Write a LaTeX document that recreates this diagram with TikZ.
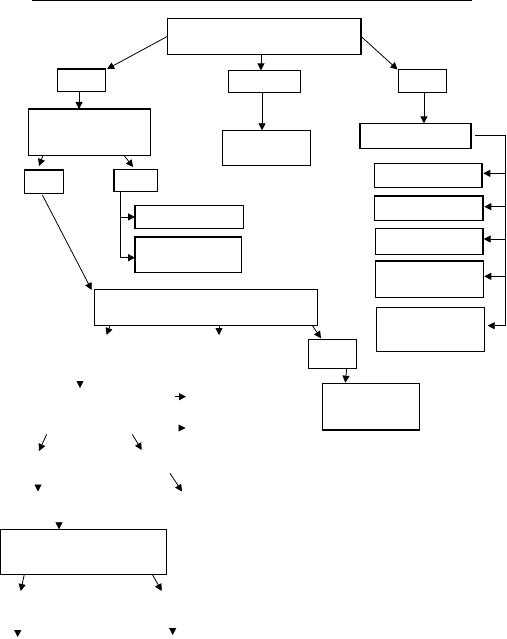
\documentclass[tikz,border=0pt]{standalone}
\usetikzlibrary{arrows.meta}
\tikzset{
  boxst/.style={draw, line width=1.1pt, inner sep=0pt, outer sep=0pt},
  arr/.style={line width=0.8pt, -{Triangle[length=7pt,width=7pt]}},
  conn/.style={line width=0.8pt},
}
\newcommand\bx[5]{\node[boxst, minimum width={(#4-#2)*1pt}, minimum height={(#5-#3)*1pt}] (#1) at ({(#2+#4)/2},{(#3+#5)/2}) {};}
\begin{document}
\begin{tikzpicture}[x=1pt,y=-1pt]
\useasboundingbox (0,0) rectangle (506,639);
\draw[line width=1.4pt] (32,0.5) -- (472,0.5);
% boxes
\bx{A}{167.5}{18.3}{361}{54.4}
\bx{Bl}{57.5}{69}{105.6}{91.4}
\bx{Bm}{228.5}{70.4}{300.2}{92.6}
\bx{Br}{398.5}{69.5}{446.8}{92.5}
\bx{Cl}{28.5}{109}{150.6}{155.3}
\bx{Cm}{222.4}{130.3}{310.6}{165.3}
\bx{Cr}{360}{123.4}{471}{148.3}
\bx{Da}{374.2}{163.4}{482}{187.3}
\bx{Db}{374.2}{196}{483}{220.7}
\bx{Dc}{375.2}{228.4}{483}{254.3}
\bx{Dd}{375.5}{261}{483.7}{297.3}
\bx{De}{376.5}{307.4}{484.7}{351.3}
\bx{El}{24.4}{170}{63.3}{193.4}
\bx{Er}{114}{169.4}{157.3}{191.7}
\bx{Fa}{135}{205.2}{243.4}{228.7}
\bx{Fb}{135}{237}{241.7}{272.3}
\bx{G}{94.3}{289.4}{317.3}{325.4}
\bx{H}{308.4}{339.3}{356.4}{368.3}
\bx{I}{322.4}{383.4}{419.7}{430}
\bx{J}{0.6}{529.3}{166.7}{574.4}
% top level
\draw[arr] (A.west) -- ([xshift=1.5pt]Bl.north east);
\draw[arr] ([xshift=-3.3pt]A.south) -- ([xshift=-3.3pt]A.south |- Bm.north);
\draw[arr] (A.east) -- ([xshift=-1pt]Br.north west);
\draw[arr] ([xshift=-2.5pt]Bl.south) -- ([xshift=-2.5pt]Bl.south |- Cl.north);
\draw[arr] ([xshift=-2.3pt]Bm.south) -- ([xshift=-2.3pt]Bm.south |- Cm.north);
\draw[arr] ([xshift=1.3pt]Br.south) -- ([xshift=1.3pt]Br.south |- Cr.north);
% right bracket
\coordinate (rb) at (505.6,325.7);
\draw[conn] ([xshift=4pt]Cr.east) -| (rb);
\draw[arr] ([yshift=2pt]Da.east -| rb) -- ([shift={(1.3pt,2pt)}]Da.east);
\draw[arr] ([yshift=1.7pt]Db.east -| rb) -- ([shift={(1.3pt,1.7pt)}]Db.east);
\draw[arr] ([yshift=2.3pt]Dc.east -| rb) -- ([shift={(0.7pt,2.3pt)}]Dc.east);
\draw[arr] ([yshift=2.8pt]Dd.east -| rb) -- ([shift={(0.6pt,2.8pt)}]Dd.east);
\draw[arr] (rb) -- ([xshift=3pt]rb -| De.east);
% left branch
\draw[arr] ([xshift=14.5pt]Cl.south west) -- ([shift={(-4.8pt,4pt)}]El.north);
\draw[arr] ([xshift=-26.6pt]Cl.south east) -- ([shift={(-2.6pt,2.4pt)}]Er.north);
\coordinate (eb) at (120.3,257.7);
\draw[conn] ([xshift=6.3pt]Er.south west) -- (eb);
\draw[arr] (eb |- Fa.west) -- (Fa.west);
\draw[arr] (eb) -- (eb -| Fb.west);
\draw[arr] ([shift={(-1.5pt,-1.6pt)}]El.south) -- ([shift={(-2.6pt,-0.6pt)}]G.north west);
% G outputs
\coordinate (g1) at (106.7,335);
\coordinate (g2) at (219,335);
\draw[arr] ([xshift=15.7pt]G.south west) -- (g1);
\draw[arr] (g2 |- G.south) -- (g2);
\draw[arr] ([xshift=-5pt]G.south east) -- ([shift={(12.6pt,1pt)}]H.north west);
\draw[arr] ([xshift=14.3pt]H.south) -- ([shift={(-25.7pt,0.7pt)}]I.north);
% loose arrows
\coordinate (p1s) at (80,381);    \coordinate (p1t) at (80,388);
\coordinate (p2s) at (175,396.7); \coordinate (p2t) at (186,396.7);
\coordinate (p3s) at (178.5,428); \coordinate (p3t) at (185.5,428);
\coordinate (p4s) at (46.7,434.3); \coordinate (p4t) at (39,451);
\coordinate (p5s) at (132.3,434.3); \coordinate (p5t) at (141.7,450);
\coordinate (p6s) at (38,484.7);  \coordinate (p6t) at (38,491.5);
\coordinate (p7s) at (170,473.3); \coordinate (p7t) at (182,491.5);
\coordinate (p8s) at (59,522);
\coordinate (q1) at (20.7,591);   \coordinate (q2) at (161.7,591);
\coordinate (p9s) at (17.7,630);  \coordinate (p9t) at (17.7,637);
\coordinate (p10s) at (172.7,628); \coordinate (p10t) at (172.7,635);
\draw[arr] (p1s) -- (p1t);
\draw[arr] (p2s) -- (p2t);
\draw[arr] (p3s) -- (p3t);
\draw[arr] (p4s) -- (p4t);
\draw[arr] (p5s) -- (p5t);
\draw[arr] (p6s) -- (p6t);
\draw[arr] (p7s) -- (p7t);
\draw[arr] (p8s) -- (p8s |- J.north);
\draw[arr] ([xshift=23.7pt]J.south west) -- (q1);
\draw[arr] ([xshift=-14.4pt]J.south east) -- (q2);
\draw[arr] (p9s) -- (p9t);
\draw[arr] (p10s) -- (p10t);
\end{tikzpicture}
\end{document}
